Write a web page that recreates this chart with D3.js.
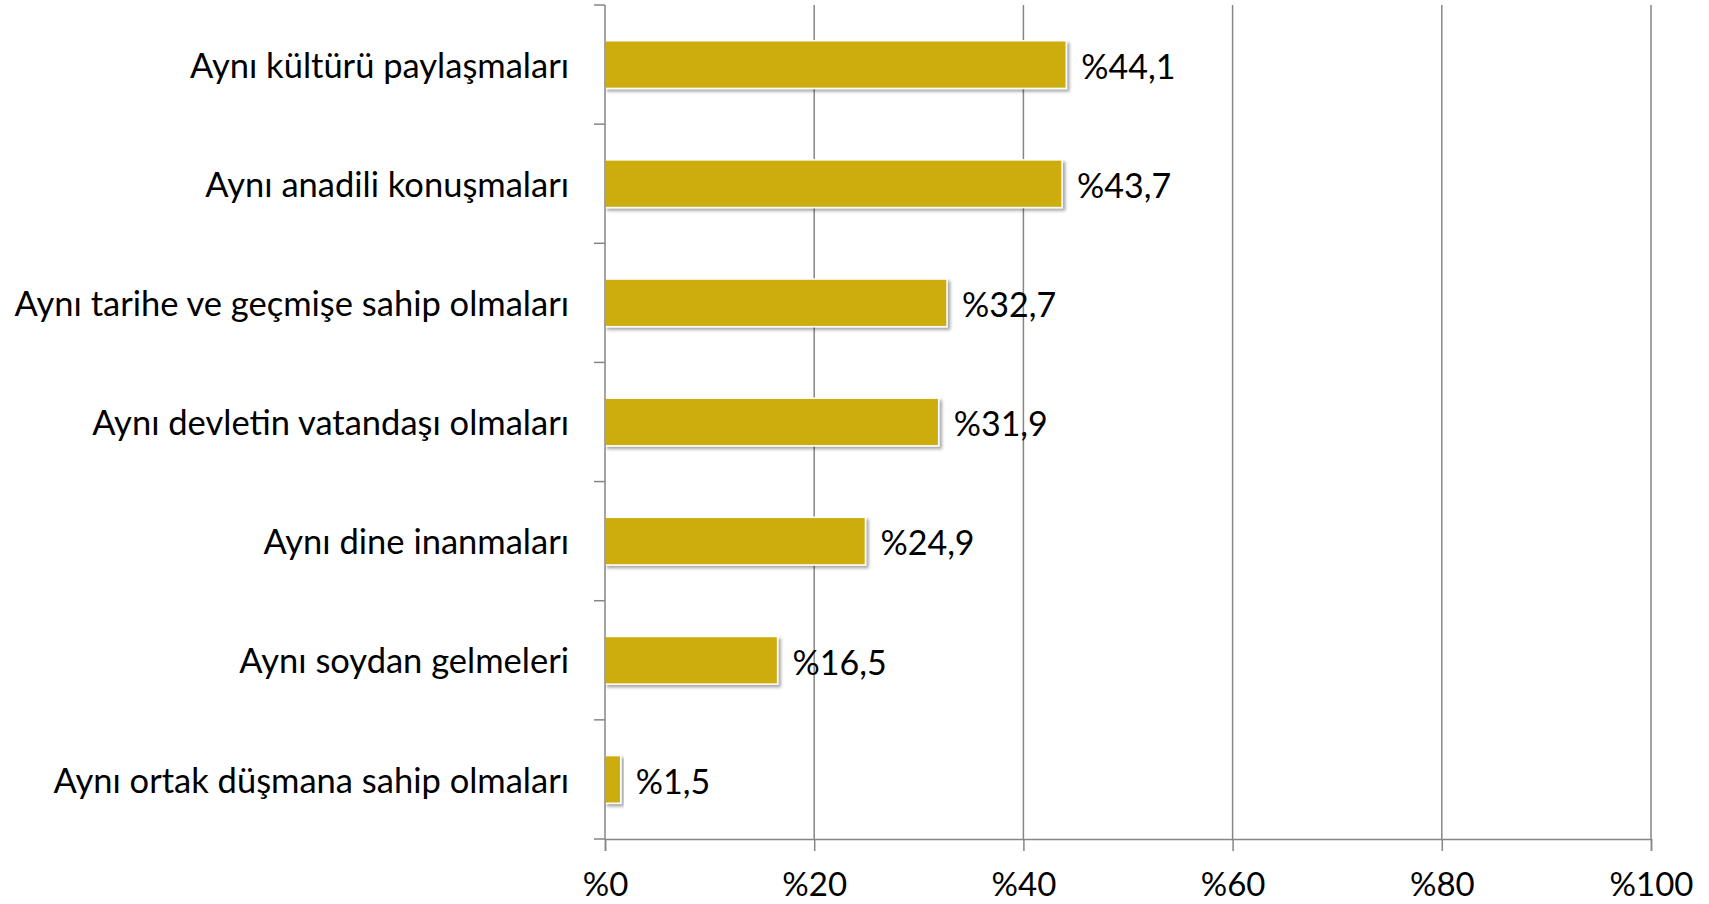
<!DOCTYPE html>
<meta charset="utf-8">
<script src="https://d3js.org/d3.v7.min.js"></script>
<style>
  body { margin: 0; background: #fff; }
  text { font-family: Lato, "Open Sans", sans-serif; fill: #000; }
</style>
<div id="chart"></div>
<script>
  // data
  const categories = [
    "Aynı kültürü paylaşmaları",
    "Aynı anadili konuşmaları",
    "Aynı tarihe ve geçmişe sahip olmaları",
    "Aynı devletin vatandaşı olmaları",
    "Aynı dine inanmaları",
    "Aynı soydan gelmeleri",
    "Aynı ortak düşmana sahip olmaları"
  ];
  const values = [44.1, 43.7, 32.7, 31.9, 24.9, 16.5, 1.5];
  const valueLabels = ["%44,1", "%43,7", "%32,7", "%31,9", "%24,9", "%16,5", "%1,5"];
  const xTicks = [0, 20, 40, 60, 80, 100];

  const W = 1709, H = 904;
  const margin = {top: 5, right: 58, bottom: 65, left: 605};
  const width = W - margin.left - margin.right;
  const height = H - margin.top - margin.bottom;

  const svg = d3.select("#chart").append("svg")
      .attr("width", W).attr("height", H);

  const defs = svg.append("defs");
  const f = defs.append("filter").attr("id", "shadow")
      .attr("x", "-20%").attr("y", "-20%").attr("width", "140%").attr("height", "160%");
  f.append("feDropShadow").attr("dx", 2.5).attr("dy", 2.5).attr("stdDeviation", 1.8)
      .attr("flood-color", "#000").attr("flood-opacity", 0.35);

  const g = svg.append("g")
      .attr("transform", "translate(" + margin.left + "," + margin.top + ")");

  const x = d3.scaleLinear().domain([0, 100]).range([0, width]);
  const y = d3.scaleBand().domain(categories).range([0, height]).paddingInner(0.6).paddingOuter(0.3);

  // vertical gridlines
  g.append("g").selectAll("line")
    .data(xTicks.slice(1))
    .enter().append("line")
      .attr("x1", d => x(d)).attr("x2", d => x(d))
      .attr("y1", 0).attr("y2", height)
      .attr("stroke", "#868686").attr("stroke-width", 1.5);

  // bars
  g.append("g").selectAll("rect")
    .data(values)
    .enter().append("rect")
      .attr("x", 0)
      .attr("y", (d, i) => y(categories[i]))
      .attr("width", d => x(d))
      .attr("height", y.bandwidth())
      .attr("fill", "#CCAD0B")
      .attr("stroke", "#fff").attr("stroke-width", 1.5)
      .attr("filter", "url(#shadow)");

  // x axis
  const xAxis = g.append("g")
      .attr("transform", "translate(0," + height + ")")
      .call(d3.axisBottom(x).tickValues(xTicks).tickSize(12).tickPadding(22)
        .tickFormat(d => "%" + d));
  xAxis.select(".domain").attr("stroke", "#868686").attr("stroke-width", 1.5);
  xAxis.selectAll(".tick line").attr("stroke", "#868686").attr("stroke-width", 1.5);
  xAxis.selectAll(".tick text").style("font-size", "33px").attr("fill", "#000");

  // y axis: boundaries between categories get the tick marks
  const yBounds = d3.range(categories.length + 1).map(i => i * height / categories.length);
  g.append("line")
      .attr("x1", 0).attr("x2", 0).attr("y1", 0).attr("y2", height)
      .attr("stroke", "#868686").attr("stroke-width", 1.5);
  g.append("g").selectAll("line")
    .data(yBounds)
    .enter().append("line")
      .attr("x1", -11).attr("x2", 0)
      .attr("y1", d => d).attr("y2", d => d)
      .attr("stroke", "#868686").attr("stroke-width", 1.5);

  // category labels
  g.append("g").selectAll("text")
    .data(categories)
    .enter().append("text")
      .attr("x", -36)
      .attr("y", d => y(d) + y.bandwidth() / 2)
      .attr("dy", "0.38em")
      .attr("text-anchor", "end")
      .style("font-size", "34.5px")
      .text(d => d);

  // value labels
  g.append("g").selectAll("text")
    .data(values)
    .enter().append("text")
      .attr("x", d => x(d) + 15)
      .attr("y", (d, i) => y(categories[i]) + y.bandwidth() / 2)
      .attr("dy", "0.42em")
      .style("font-size", "34px")
      .text((d, i) => valueLabels[i]);
</script>
